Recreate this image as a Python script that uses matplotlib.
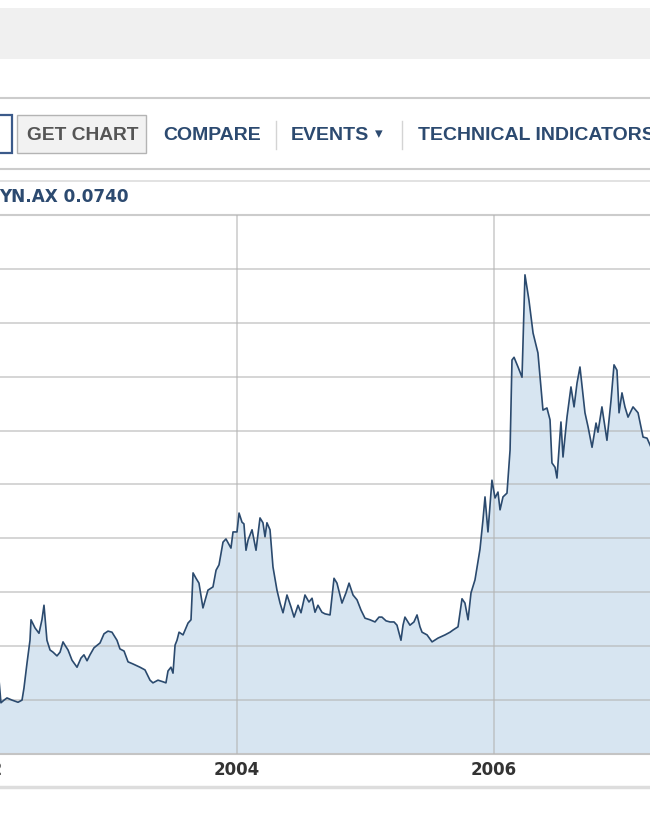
import numpy as np
import matplotlib
matplotlib.use("Agg")
import matplotlib.pyplot as plt
from matplotlib.lines import Line2D
from matplotlib.patches import Rectangle

# weekly-ish closes (decimal year, price)
years = [2002.148, 2002.163, 2002.187, 2002.210, 2002.249, 2002.296, 2002.327, 2002.342, 2002.366, 2002.389,
         2002.397, 2002.428, 2002.459, 2002.482, 2002.498, 2002.521, 2002.545, 2002.568, 2002.599, 2002.623,
         2002.646, 2002.661, 2002.685, 2002.716, 2002.755, 2002.786, 2002.809, 2002.833, 2002.856, 2002.887,
         2002.934, 2002.965, 2002.996, 2003.027, 2003.066, 2003.089, 2003.121, 2003.152, 2003.191, 2003.245,
         2003.284, 2003.323, 2003.346, 2003.385, 2003.424, 2003.447, 2003.463, 2003.486, 2003.502, 2003.518,
         2003.533, 2003.549, 2003.580, 2003.619, 2003.642, 2003.658, 2003.681, 2003.704, 2003.735, 2003.774,
         2003.813, 2003.837, 2003.860, 2003.891, 2003.914, 2003.953, 2003.969, 2004.000, 2004.016, 2004.039,
         2004.054, 2004.070, 2004.086, 2004.117, 2004.148, 2004.179, 2004.202, 2004.218, 2004.233, 2004.257,
         2004.280, 2004.311, 2004.335, 2004.358, 2004.389, 2004.420, 2004.444, 2004.475, 2004.498, 2004.529,
         2004.560, 2004.584, 2004.607, 2004.630, 2004.661, 2004.685, 2004.724, 2004.755, 2004.778, 2004.817,
         2004.848, 2004.872, 2004.903, 2004.934, 2004.965, 2004.996, 2005.035, 2005.074, 2005.105, 2005.128,
         2005.160, 2005.191, 2005.222, 2005.245, 2005.276, 2005.292, 2005.307, 2005.331, 2005.346, 2005.377,
         2005.401, 2005.424, 2005.440, 2005.479, 2005.518, 2005.564, 2005.619, 2005.658, 2005.681, 2005.720,
         2005.751, 2005.774, 2005.798, 2005.821, 2005.852, 2005.875, 2005.891, 2005.914, 2005.930, 2005.953,
         2005.984, 2006.008, 2006.031, 2006.047, 2006.070, 2006.101, 2006.125, 2006.140, 2006.156, 2006.187,
         2006.218, 2006.241, 2006.272, 2006.304, 2006.342, 2006.381, 2006.412, 2006.436, 2006.451, 2006.475,
         2006.490, 2006.521, 2006.537, 2006.568, 2006.599, 2006.623, 2006.646, 2006.669, 2006.708, 2006.732,
         2006.763, 2006.794, 2006.809, 2006.840, 2006.879, 2006.911, 2006.934, 2006.957, 2006.973, 2006.996,
         2007.019, 2007.043, 2007.082, 2007.121, 2007.160, 2007.191, 2007.222]
prices = [0.0137, 0.0095, 0.0100, 0.0104, 0.0100, 0.0096, 0.0100, 0.0122, 0.0169, 0.0211,
          0.0249, 0.0234, 0.0224, 0.0249, 0.0276, 0.0211, 0.0193, 0.0189, 0.0182, 0.0189,
          0.0208, 0.0202, 0.0193, 0.0174, 0.0161, 0.0178, 0.0184, 0.0173, 0.0184, 0.0197,
          0.0206, 0.0223, 0.0228, 0.0226, 0.0211, 0.0195, 0.0191, 0.0171, 0.0167, 0.0161,
          0.0156, 0.0137, 0.0132, 0.0137, 0.0134, 0.0132, 0.0154, 0.0161, 0.0150, 0.0202,
          0.0211, 0.0226, 0.0221, 0.0243, 0.0249, 0.0336, 0.0326, 0.0317, 0.0271, 0.0304,
          0.0310, 0.0341, 0.0351, 0.0393, 0.0399, 0.0382, 0.0412, 0.0412, 0.0447, 0.0430,
          0.0427, 0.0378, 0.0397, 0.0416, 0.0378, 0.0438, 0.0429, 0.0403, 0.0429, 0.0416,
          0.0347, 0.0304, 0.0280, 0.0262, 0.0295, 0.0273, 0.0254, 0.0276, 0.0262, 0.0295,
          0.0282, 0.0289, 0.0263, 0.0276, 0.0263, 0.0260, 0.0258, 0.0326, 0.0317, 0.0280,
          0.0299, 0.0317, 0.0295, 0.0286, 0.0267, 0.0252, 0.0249, 0.0245, 0.0254, 0.0254,
          0.0247, 0.0245, 0.0245, 0.0239, 0.0211, 0.0239, 0.0254, 0.0245, 0.0239, 0.0245,
          0.0258, 0.0236, 0.0226, 0.0221, 0.0208, 0.0215, 0.0221, 0.0226, 0.0230, 0.0236,
          0.0288, 0.0280, 0.0249, 0.0299, 0.0323, 0.0356, 0.0380, 0.0434, 0.0477, 0.0412,
          0.0508, 0.0475, 0.0486, 0.0453, 0.0477, 0.0484, 0.0564, 0.0731, 0.0736, 0.0718,
          0.0699, 0.0889, 0.0842, 0.0781, 0.0744, 0.0638, 0.0642, 0.0620, 0.0540, 0.0532,
          0.0512, 0.0616, 0.0551, 0.0625, 0.0681, 0.0644, 0.0688, 0.0718, 0.0633, 0.0607,
          0.0569, 0.0614, 0.0597, 0.0644, 0.0582, 0.0657, 0.0722, 0.0712, 0.0633, 0.0670,
          0.0644, 0.0625, 0.0644, 0.0633, 0.0588, 0.0586, 0.0569]
year_ticks = [2002, 2004, 2006]
year_labels = ["2002", "2004", "2006"]
price_grid = [0.01, 0.02, 0.03, 0.04, 0.05, 0.06, 0.07, 0.08, 0.09]
toolbar_items = ["COMPARE", "EVENTS", "TECHNICAL INDICATORS"]
quote_text = "YN.AX 0.0740"

W, H = 650, 813
fig = plt.figure(figsize=(W / 100, H / 100), dpi=100)
fig.patch.set_facecolor("white")

def fx(px):
    return px / W

def fy(py):
    return 1 - py / H

def hline(py, color, lw):
    fig.add_artist(Line2D([0, 1], [fy(py), fy(py)], color=color, lw=lw, transform=fig.transFigure))

# page chrome above the chart
fig.add_artist(Rectangle((0, fy(59)), 1, (59 - 8) / H, transform=fig.transFigure,
                         facecolor="#f0f0f0", edgecolor="none"))
hline(98, "#cccccc", 1.5)
hline(169, "#cccccc", 1.5)
hline(181, "#dddddd", 1.2)
hline(787, "#dddddd", 2.5)

fig.add_artist(Rectangle((fx(-10), fy(153)), fx(22), (153 - 115) / H, transform=fig.transFigure,
                         facecolor="white", edgecolor="#3b5a8a", lw=1.6))
fig.add_artist(Rectangle((fx(17), fy(153)), fx(129), (153 - 115) / H, transform=fig.transFigure,
                         facecolor="#f2f2f2", edgecolor="#b4b4b4", lw=1.0))
for sx in [276, 402]:
    fig.add_artist(Line2D([fx(sx), fx(sx)], [fy(121), fy(149)], color="#d4d4d4", lw=1.0,
                          transform=fig.transFigure))

bold = dict(fontweight="bold", va="center", ha="left", family=["Liberation Sans", "DejaVu Sans"])
fig.text(fx(27), fy(135), "GET CHART", color="#555555", fontsize=13.8, **bold)
for item, lx in zip(toolbar_items, [163, 291, 418]):
    fig.text(fx(lx), fy(135), item, color="#2c4a70", fontsize=14, **bold)
fig.text(fx(375), fy(134), "\u25BE", color="#2c4a70", fontsize=11, **bold)
fig.text(fx(-1), fy(197), quote_text, color="#2c4a70", fontsize=12.2, fontweight="bold",
         va="center", ha="left", family="DejaVu Sans")

# chart
ax = fig.add_axes([0, (H - 754) / H, 1, (754 - 215) / H])
ax.fill_between(years, prices, 0, color="#d7e5f1", lw=0, zorder=1)
ax.plot(years, prices, color="#2b4a6e", lw=1.2, zorder=3)

ax.set_yticks(price_grid)
ax.set_yticklabels([])
ax.set_xticks(year_ticks)
ax.set_xticklabels([])
ax.set_xlim(2004 - 237 / 128.5, 2004 + 413 / 128.5)
ax.set_ylim(0, 0.10)
ax.tick_params(axis="both", length=0)
# year labels as free text so the one at the left edge shows half cut like the page
for yr, lab in zip(year_ticks, year_labels):
    ax.text(yr, -0.03, lab, transform=ax.get_xaxis_transform(), ha="center", va="center",
            fontsize=12, fontweight="bold", color="#333333", family="DejaVu Sans", clip_on=False)
ax.grid(True, color="#b4b4b4", alpha=0.6, lw=1.3, zorder=2)
ax.set_axisbelow(False)
for side in ["left", "right"]:
    ax.spines[side].set_visible(False)
ax.spines["top"].set_color("#cccccc")
ax.spines["top"].set_linewidth(1.5)
ax.spines["bottom"].set_color("#c4c4c4")
ax.spines["bottom"].set_linewidth(1.5)
ax.set_facecolor("white")

fig.savefig("out.png", dpi=100)
